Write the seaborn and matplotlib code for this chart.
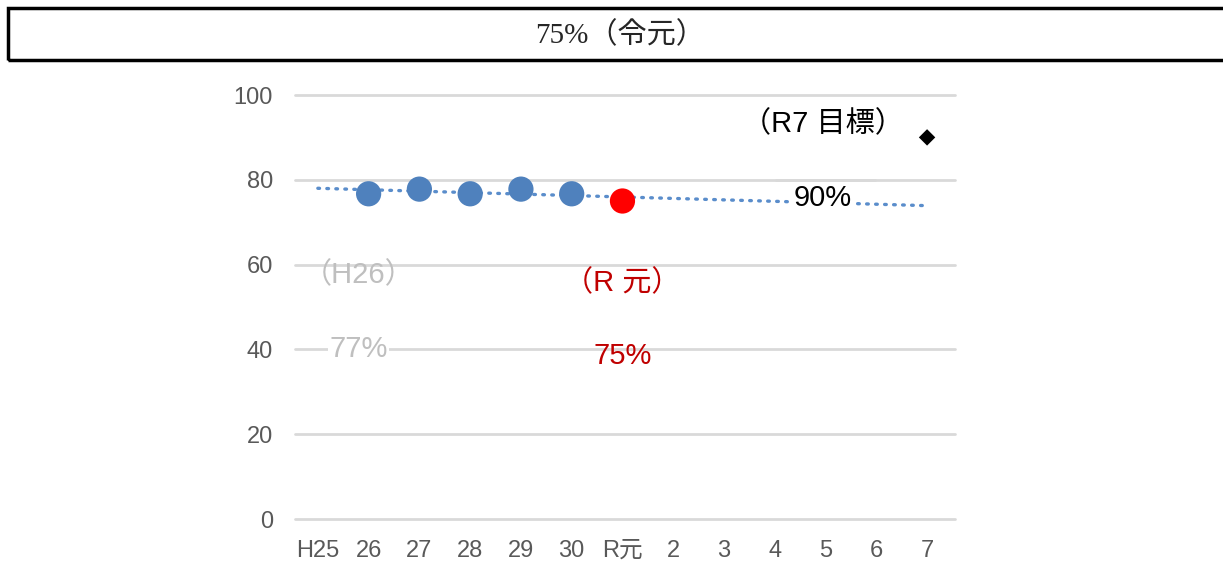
import seaborn as sns
import pandas as pd
import matplotlib.pyplot as plt
from matplotlib.patches import Rectangle

# data
categories = ['H25', '26', '27', '28', '29', '30', 'R元', '2', '3', '4', '5', '6', '7']
past_years = ['26', '27', '28', '29', '30']
past_values = [76.7, 77.8, 76.7, 77.8, 76.7]
current_year = ['R元']
current_value = [75.0]
target_year = ['7']
target_value = [90.0]
trend_years = ['H25', '7']
trend_values = [78.0, 73.9]
yticks = [0, 20, 40, 60, 80, 100]

sns.set_theme(style='white')
plt.rcParams['font.family'] = ['Liberation Sans', 'Noto Sans CJK JP', 'DejaVu Sans']

pos = {c: i for i, c in enumerate(categories)}
past = pd.DataFrame({'x': [pos[c] for c in past_years], 'y': past_values})
cur = pd.DataFrame({'x': [pos[c] for c in current_year], 'y': current_value})
tgt = pd.DataFrame({'x': [pos[c] for c in target_year], 'y': target_value})
trend = pd.DataFrame({'x': [pos[c] for c in trend_years], 'y': trend_values})

fig = plt.figure(figsize=(12.23, 5.63), dpi=100)
ax = fig.add_axes([295 / 1223, 1 - 519 / 563, 660 / 1223, 424 / 563])

for t in yticks:
    ax.axhline(t, color='#d9d9d9', lw=2, zorder=0, clip_on=False)

sns.lineplot(data=trend, x='x', y='y', ax=ax, color='#5a8dcb', lw=2.4,
             linestyle=(0, (0.5, 2.2)), dash_capstyle='round', zorder=2)
sns.scatterplot(data=past, x='x', y='y', ax=ax, color='#4f81bd', s=330,
                edgecolor='none', zorder=3)
sns.scatterplot(data=cur, x='x', y='y', ax=ax, color='#ff0000', s=330,
                edgecolor='none', zorder=3)
sns.scatterplot(data=tgt, x='x', y='y', ax=ax, color='black', marker='D', s=70,
                edgecolor='none', zorder=3)

ax.set_xlim(-0.45, 12.55)
ax.set_ylim(0, 100)
ax.set_xticks(range(len(categories)))
ax.set_xticklabels(categories)
ax.set_yticks(yticks)
ax.tick_params(axis='both', length=0, labelsize=17, colors='#595959')
ax.tick_params(axis='y', pad=16)
ax.tick_params(axis='x', pad=15)
ax.set_xlabel('')
ax.set_ylabel('')
for s in ax.spines.values():
    s.set_visible(False)

wb = dict(facecolor='white', edgecolor='none', pad=1)
ax.text(pos['26'] - 0.2, 57.5, '（H26）', color='#bfbfbf', fontsize=21, ha='center', va='center')
ax.text(pos['26'] - 0.2, 40, '77%', color='#bfbfbf', fontsize=21, ha='center', va='center', bbox=wb)
ax.text(pos['R元'], 55.5, '（R 元）', color='#c00000', fontsize=21, ha='center', va='center')
ax.text(pos['R元'], 38.5, '75%', color='#c00000', fontsize=21, ha='center', va='center')
ax.text(pos['5'] - 0.05, 93, '（R7 目標）', color='black', fontsize=21, ha='center', va='center')
ax.text(pos['5'] - 0.05, 75.8, '90%', color='black', fontsize=21, ha='center', va='center',
        bbox=wb, zorder=3.5)
# keep the 80 gridline visible above the white box of the 90% label
ax.hlines(80, pos['4'], pos['6'], color='#d9d9d9', lw=2, zorder=4)

# heading box
fig.patches.append(Rectangle((8 / 1223, 1 - 60 / 563), 1.0, 52 / 563, transform=fig.transFigure,
                             fill=False, edgecolor='black', lw=2.5))
fig.text(620 / 1223, 1 - 35 / 563, '75%（令元）', fontsize=21, ha='center', va='center',
         family=['Liberation Serif', 'Noto Sans CJK JP'])

fig.savefig('out.png', dpi=100)
